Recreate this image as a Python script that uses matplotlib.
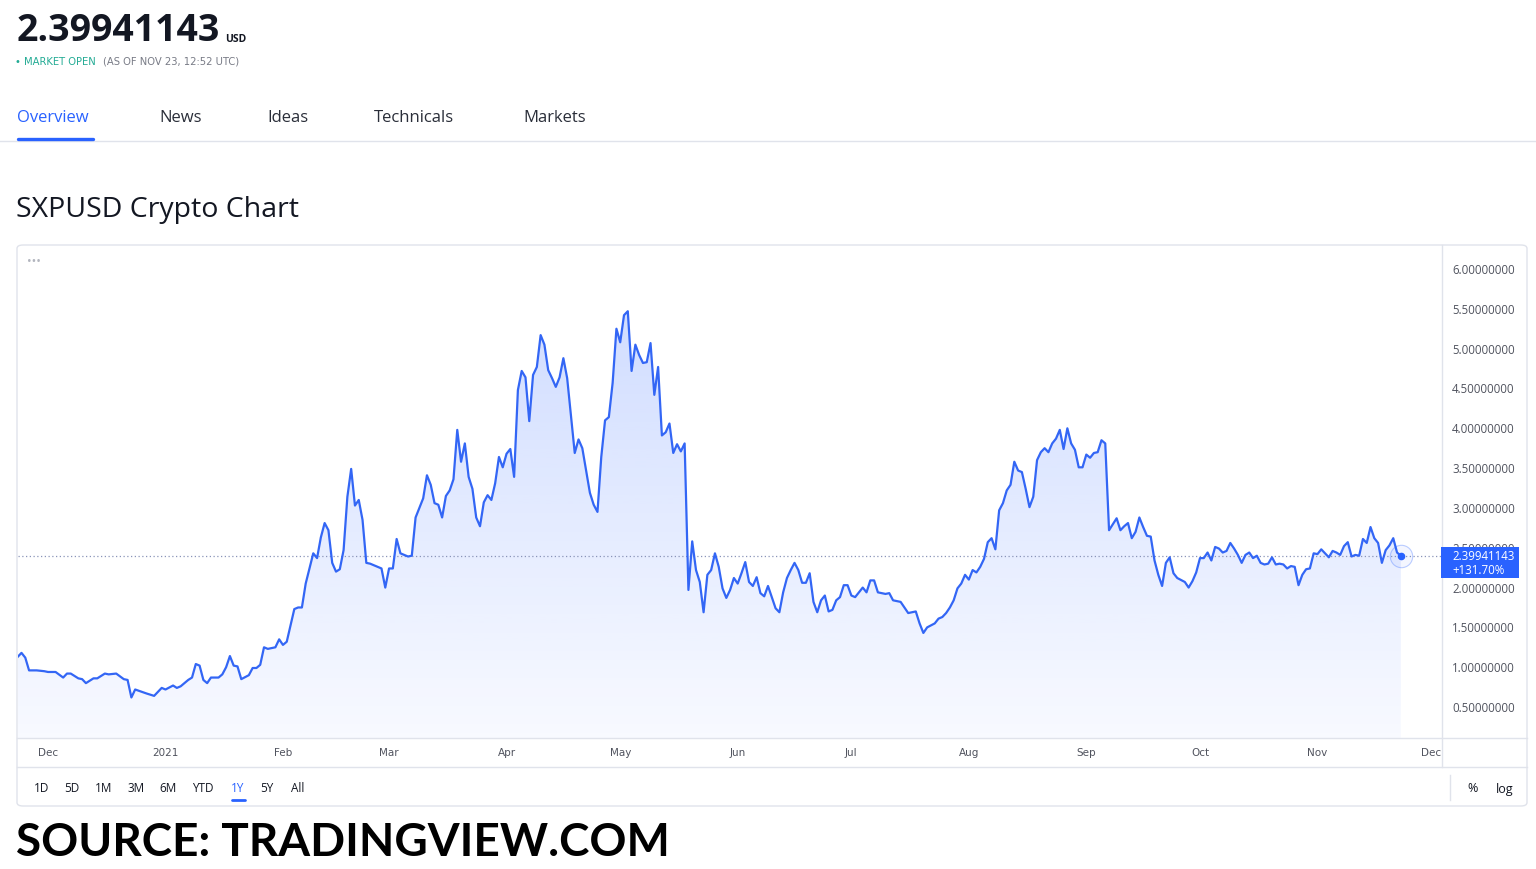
import numpy as np
import pandas as pd
import matplotlib
matplotlib.use("Agg")
import matplotlib.pyplot as plt
import matplotlib.dates as mdates
from matplotlib.lines import Line2D
from matplotlib.patches import FancyBboxPatch, Rectangle
from matplotlib.ticker import FuncFormatter

# ============================================================
# 0. Data (SXPUSD, 1Y daily close)
# ============================================================
start_date = "2020-11-23"

day_offset = [
    0, 1, 2, 3, 5, 7, 8, 10, 12, 13, 14, 16, 17, 18, 20, 21, 23, 24, 26, 28, 29, 30, 31,
    34, 36, 38, 39, 41, 42, 43, 45, 46, 47, 48, 49, 50, 51, 53, 54, 55, 56, 57, 58, 59,
    61, 62, 63, 64, 65, 66, 68, 69, 70, 71, 73, 74, 75, 76, 78, 79, 80, 81, 82, 83, 84,
    85, 86, 87, 88, 89, 90, 91, 92, 93, 96, 97, 98, 99, 100, 101, 103, 104, 105, 107,
    108, 109, 110, 111, 112, 113, 114, 115, 116, 117, 118, 119, 120, 121, 122, 123, 124,
    125, 126, 127, 128, 129, 130, 131, 132, 133, 134, 135, 136, 137, 138, 139, 140, 141,
    142, 143, 144, 145, 147, 148, 149, 151, 152, 153, 154, 155, 156, 157, 158, 159, 160,
    161, 162, 163, 164, 165, 166, 167, 168, 169, 170, 171, 172, 173, 174, 175, 176, 177,
    178, 179, 180, 181, 182, 183, 184, 185, 186, 187, 188, 189, 190, 191, 192, 193, 194,
    195, 196, 197, 198, 199, 200, 201, 202, 203, 204, 205, 206, 207, 208, 209, 210, 211,
    212, 213, 214, 215, 216, 217, 218, 219, 220, 221, 222, 223, 224, 225, 226, 227, 228,
    229, 230, 231, 233, 234, 235, 236, 237, 238, 239, 240, 242, 243, 244, 245, 246, 247,
    248, 249, 250, 251, 252, 253, 254, 255, 256, 257, 258, 259, 260, 261, 262, 263, 264,
    265, 266, 267, 268, 269, 270, 271, 272, 273, 274, 275, 276, 277, 278, 279, 280, 281,
    282, 283, 284, 285, 286, 287, 288, 290, 291, 292, 293, 294, 295, 296, 297, 298, 299,
    300, 301, 302, 303, 304, 305, 306, 308, 309, 310, 311, 312, 313, 314, 315, 316, 317,
    318, 319, 320, 321, 322, 323, 324, 325, 326, 327, 328, 329, 330, 331, 332, 333, 334,
    335, 336, 337, 338, 339, 340, 341, 342, 343, 344, 345, 346, 347, 348, 349, 350, 351,
    352, 353, 354, 355, 356, 357, 358, 359, 360, 361, 362, 363, 364, 365,
]

price = [
    1.13, 1.18, 1.12, 0.96, 0.96, 0.95, 0.94, 0.94, 0.87, 0.92, 0.92, 0.86, 0.85, 0.80, 0.86, 0.86, 0.92, 0.91, 0.92, 0.85, 0.84, 0.62, 0.72,
    0.67, 0.64, 0.74, 0.72, 0.77, 0.74, 0.76, 0.84, 0.87, 1.04, 1.02, 0.84, 0.80, 0.87, 0.87, 0.91, 1.00, 1.14, 1.02, 1.01, 0.85,
    0.90, 0.99, 0.99, 1.03, 1.25, 1.23, 1.25, 1.35, 1.28, 1.32, 1.73, 1.75, 1.75, 2.05, 2.43, 2.37, 2.63, 2.81, 2.72, 2.31, 2.20,
    2.23, 2.47, 3.14, 3.49, 3.03, 3.10, 2.85, 2.31, 2.30, 2.24, 2.00, 2.24, 2.24, 2.61, 2.43, 2.39, 2.40, 2.88, 3.12,
    3.41, 3.29, 3.06, 3.04, 2.88, 3.15, 3.22, 3.36, 3.98, 3.58, 3.81, 3.39, 3.24, 2.88, 2.77, 3.07, 3.16,
    3.10, 3.31, 3.64, 3.51, 3.68, 3.74, 3.39, 4.48, 4.72, 4.64, 4.09, 4.67, 4.77, 5.17, 5.05, 4.73, 4.63,
    4.52, 4.64, 4.88, 4.63, 3.69, 3.86, 3.75, 3.19, 3.04, 2.95, 3.64, 4.10, 4.14, 4.57, 5.25, 5.08, 5.42,
    5.47, 4.72, 5.05, 4.92, 4.82, 4.83, 5.07, 4.42, 4.77, 3.91, 3.95, 4.06, 3.69, 3.80, 3.71, 3.81, 1.97,
    2.58, 2.22, 2.07, 1.69, 2.16, 2.22, 2.43, 2.26, 1.99, 1.87, 1.97, 2.12, 2.05, 2.18, 2.32, 2.07, 2.02,
    2.13, 1.93, 1.89, 2.02, 1.88, 1.74, 1.69, 1.94, 2.12, 2.22, 2.31, 2.22, 2.06, 2.06, 2.18, 1.82, 1.69,
    1.84, 1.90, 1.70, 1.72, 1.84, 1.88, 2.03, 2.03, 1.90, 1.88, 1.94, 2.00, 1.94, 2.09, 2.09, 1.94, 1.93,
    1.92, 1.93, 1.84, 1.82, 1.75, 1.68, 1.69, 1.70, 1.55, 1.43, 1.50, 1.55, 1.61, 1.63, 1.68, 1.75, 1.84,
    1.99, 2.05, 2.16, 2.10, 2.22, 2.19, 2.26, 2.36, 2.57, 2.62, 2.48, 2.97, 3.06, 3.22, 3.29, 3.58, 3.47,
    3.45, 3.24, 3.01, 3.14, 3.60, 3.70, 3.75, 3.70, 3.81, 3.87, 3.98, 3.74, 4.00, 3.81, 3.73, 3.51, 3.51,
    3.67, 3.63, 3.69, 3.70, 3.85, 3.81, 2.72, 2.87, 2.72, 2.77, 2.81, 2.62, 2.70, 2.88, 2.76, 2.65, 2.64,
    2.34, 2.16, 2.02, 2.31, 2.38, 2.18, 2.12, 2.07, 2.00, 2.08, 2.19, 2.37, 2.37, 2.44, 2.34, 2.51, 2.49,
    2.44, 2.46, 2.56, 2.49, 2.41, 2.31, 2.41, 2.44, 2.37, 2.40, 2.31, 2.29, 2.30, 2.38, 2.29, 2.30, 2.29,
    2.24, 2.27, 2.26, 2.03, 2.16, 2.23, 2.24, 2.43, 2.42, 2.48, 2.43, 2.38, 2.46, 2.44, 2.41, 2.52, 2.57,
    2.39, 2.41, 2.40, 2.61, 2.56, 2.76, 2.62, 2.56, 2.31, 2.47, 2.53, 2.62, 2.44, 2.39941143,
]

last_price_text = "2.39941143"
change_text = "+131.70%"
y_ticks = [0.5, 1.0, 1.5, 2.0, 2.5, 3.0, 3.5, 4.0, 4.5, 5.0, 5.5, 6.0]
tabs = ["Overview", "News", "Ideas", "Technicals", "Markets"]
range_buttons = ["1D", "5D", "1M", "3M", "6M", "YTD", "1Y", "5Y", "All"]

# ============================================================
# 1. Style
# ============================================================
plt.rcParams["font.family"] = ["Open Sans", "DejaVu Sans"]

W, H = 1536, 869
BLUE = "#2962ff"
DARK = "#131722"
GRAY = "#787b86"
BORDER = "#e0e3eb"


def px(x):
    return x / W


def py(y):
    return 1 - y / H


fig = plt.figure(figsize=(W / 100, H / 100), dpi=100)
fig.patch.set_facecolor("white")

# ============================================================
# 2. Header
# ============================================================
fig.text(px(17), py(31), last_price_text, fontsize=27, fontweight="bold",
         color=DARK, ha="left", va="center")
fig.text(px(225), py(40), "USD", fontsize=7.5, fontweight="bold",
         color=DARK, ha="left", va="center")
fig.text(px(15), py(62), "• MARKET OPEN", fontsize=7.2, color="#22ab94",
         family=["DejaVu Sans"], ha="left", va="center")
fig.text(px(103), py(62), "(AS OF NOV 23, 12:52 UTC)", fontsize=7.2,
         family=["DejaVu Sans"], color=GRAY, ha="left", va="center")

tab_x = [17, 159, 267, 374, 523]
for name, x in zip(tabs, tab_x):
    fig.text(px(x), py(118), name, fontsize=12, ha="left", va="center",
             color=BLUE if name == "Overview" else "#2a2e39")
fig.add_artist(Line2D([0, 1], [py(141), py(141)], color=BORDER, lw=1,
                      transform=fig.transFigure))
fig.add_artist(Line2D([px(18), px(93)], [py(139), py(139)], color=BLUE, lw=2.4,
                      solid_capstyle="round", transform=fig.transFigure))

fig.text(px(16), py(210), "SXPUSD Crypto Chart", fontsize=20.5, color=DARK,
         ha="left", va="center")

# ============================================================
# 3. Chart card
# ============================================================
card = FancyBboxPatch((px(17), py(806)), px(1527) - px(17), py(245) - py(806),
                      boxstyle="round,pad=0,rounding_size=0.004",
                      facecolor="white", edgecolor=BORDER, lw=1,
                      transform=fig.transFigure, zorder=0)
fig.add_artist(card)
for yy in (738, 767):
    fig.add_artist(Line2D([px(17), px(1527)], [py(yy), py(yy)], color=BORDER,
                          lw=1, transform=fig.transFigure))
fig.add_artist(Line2D([px(1442), px(1442)], [py(245), py(767)], color=BORDER,
                      lw=1, transform=fig.transFigure))
fig.add_artist(Line2D([px(1450), px(1450)], [py(775), py(800)], color=BORDER,
                      lw=1, transform=fig.transFigure))
fig.text(px(27), py(262), "•••", fontsize=9, color="#b2b5be", ha="left", va="center")

ax = fig.add_axes([px(18), py(738), px(1441) - px(18), py(246) - py(738)])
ax.set_facecolor("none")

dates = pd.Timestamp(start_date) + pd.to_timedelta(day_offset, unit="D")
xnum = mdates.date2num(dates)
vals = np.array(price)

y_lo, y_hi = 0.111, 6.289
x_lo = mdates.date2num(pd.Timestamp(start_date)) + 0.08
x_hi = mdates.date2num(pd.Timestamp(start_date)) + 375.6

# gradient area under the line
poly = ax.fill_between(xnum, vals, y_lo, facecolor="none", lw=0)
grad_y = np.linspace(y_lo, y_hi, 256)
rgba = np.zeros((256, 1, 4))
rgba[..., 0] = 41 / 255
rgba[..., 1] = 98 / 255
rgba[..., 2] = 1.0
rgba[:, 0, 3] = np.clip(0.03 + 0.034 * grad_y, 0, 1)
im = ax.imshow(rgba, extent=[x_lo, x_hi, y_lo, y_hi], origin="lower",
               aspect="auto", zorder=1, interpolation="bilinear")
im.set_clip_path(poly.get_paths()[0], transform=ax.transData)

ax.plot(xnum, vals, color="#3366f5", lw=1.6, zorder=3, solid_joinstyle="round")
ax.axhline(vals[-1], color="#8a94b8", lw=0.9, ls=(0, (1, 2)), zorder=2)
ax.scatter([xnum[-1]], [vals[-1]], s=260, facecolor=(0.16, 0.38, 1.0, 0.05),
           edgecolor=(0.16, 0.38, 1.0, 0.3), lw=0.8, zorder=4)
ax.scatter([xnum[-1]], [vals[-1]], s=20, color=BLUE, zorder=5)

ax.set_xlim(x_lo, x_hi)
ax.set_ylim(y_lo, y_hi)
for s in ax.spines.values():
    s.set_visible(False)

ax.xaxis.set_major_locator(mdates.MonthLocator())
ax.xaxis.set_major_formatter(FuncFormatter(
    lambda v, pos: "2021" if mdates.num2date(v).month == 1 else mdates.num2date(v).strftime("%b")))
ax.tick_params(axis="x", length=0, pad=7, labelsize=7.5, labelcolor="#50535e")
for lab in ax.get_xticklabels():
    lab.set_fontfamily(["DejaVu Sans"])

ax.yaxis.tick_right()
ax.set_yticks(y_ticks)
ax.yaxis.set_major_formatter(FuncFormatter(lambda v, pos: f"{v:.8f}"))
ax.tick_params(axis="y", length=0, pad=8, labelsize=8.3, labelcolor="#50535e")

# last price label
fig.add_artist(Rectangle((px(1441), py(578)), px(1519) - px(1441), py(547) - py(578),
                         facecolor=BLUE, edgecolor="none", transform=fig.transFigure,
                         zorder=6))
fig.text(px(1452), py(556), last_price_text, fontsize=8.3, color="white",
         ha="left", va="center", zorder=7)
fig.text(px(1452), py(570), change_text, fontsize=8.3, color="white",
         ha="left", va="center", zorder=7)

# range buttons
btn_x = [42, 72, 104, 136, 168, 203, 238, 267, 298]
for name, x in zip(range_buttons, btn_x):
    fig.text(px(x), py(789), name, fontsize=8.5, ha="center", va="center",
             color=BLUE if name == "1Y" else DARK)
fig.add_artist(Line2D([px(232), px(245)], [py(800), py(800)], color=BLUE, lw=2,
                      solid_capstyle="round", transform=fig.transFigure))
fig.text(px(1473), py(789), "%", fontsize=9, ha="center", va="center", color=DARK)
fig.text(px(1505), py(789), "log", fontsize=9, ha="center", va="center", color=DARK)

# ============================================================
# 4. Source line
# ============================================================
fig.text(px(16), py(843), "SOURCE: TRADINGVIEW.COM", fontsize=33, fontweight="bold",
         family=["Lato", "DejaVu Sans"], color="black", ha="left", va="center")

fig.savefig("out.png", dpi=100)
plt.close(fig)
print("Done.")
